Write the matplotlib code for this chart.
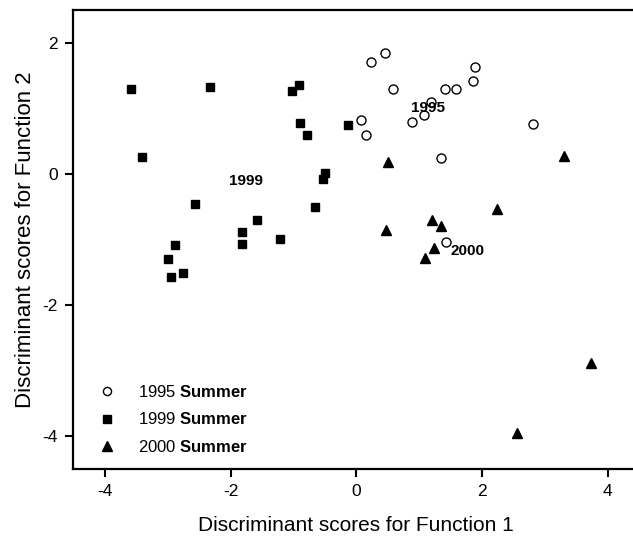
import matplotlib
matplotlib.use("Agg")
import matplotlib.pyplot as plt

plt.rcParams['font.family'] = ['Liberation Sans', 'DejaVu Sans']
plt.rcParams['mathtext.fontset'] = 'custom'
plt.rcParams['mathtext.rm'] = 'Liberation Sans'
plt.rcParams['mathtext.bf'] = 'Liberation Sans:bold'
plt.rcParams['axes.unicode_minus'] = False

# discriminant scores
x_1995 = [0.23, 0.45, 0.59, 1.41, 1.58, 1.85, 1.89, 0.08, 0.16, 0.88, 1.07, 1.18, 2.81, 1.35, 1.43]
y_1995 = [1.71, 1.85, 1.29, 1.29, 1.29, 1.42, 1.63, 0.82, 0.59, 0.79, 0.90, 1.09, 0.76, 0.24, -1.04]

x_1999 = [-3.59, -2.33, -1.03, -0.91, -0.90, -0.79, -0.13, -3.41, -0.50, -0.53,
          -2.56, -0.66, -1.58, -1.81, -1.82, -1.22, -2.88, -3.00, -2.75, -2.94]
y_1999 = [1.29, 1.33, 1.27, 1.35, 0.78, 0.59, 0.75, 0.26, 0.02, -0.07,
          -0.46, -0.50, -0.71, -0.89, -1.07, -1.00, -1.09, -1.29, -1.51, -1.57]

x_2000 = [0.51, 3.30, 2.23, 1.21, 1.34, 0.48, 1.24, 1.10, 3.73, 2.55]
y_2000 = [0.18, 0.27, -0.54, -0.70, -0.79, -0.85, -1.13, -1.28, -2.88, -3.95]

group_names = ["1995", "1999", "2000"]
group_pos = [(1.14, 1.00), (-1.76, -0.11), (1.77, -1.17)]

fig = plt.figure(figsize=(6.33, 5.38), dpi=100)
ax = fig.add_axes([0.1158, 0.1283, 566 / 633, 0.8531])

ax.plot(x_1995, y_1995, "o", ms=6.5, mfc="white", mec="black", mew=1.0, ls="none",
        label=r"1995 $\mathbf{Summer}$", zorder=3)
ax.plot(x_1999, y_1999, "s", ms=6, color="black", ls="none",
        label=r"1999 $\mathbf{Summer}$", zorder=3)
ax.plot(x_2000, y_2000, "^", ms=7.5, color="black", ls="none",
        label=r"2000 $\mathbf{Summer}$", zorder=3)

for name, (gx, gy) in zip(group_names, group_pos):
    ax.text(gx, gy, name, fontsize=11, fontweight="bold", ha="center", va="center", zorder=4)

ax.set_xlim(-4.5, 4.5)
ax.set_ylim(-4.5, 2.5)
ax.set_xticks([-4, -2, 0, 2, 4])
ax.set_yticks([-4, -2, 0, 2])
ax.tick_params(labelsize=12.5, length=6, width=1.5, direction="out", pad=5)
for s in ax.spines.values():
    s.set_linewidth(1.6)

ax.set_xlabel("Discriminant scores for Function 1", fontsize=15, labelpad=12)
ax.set_ylabel("Discriminant scores for Function 2", fontsize=16, labelpad=5)

leg = ax.legend(loc="upper left", bbox_to_anchor=(98.7 / 633, 1 - 384 / 538),
                bbox_transform=fig.transFigure, frameon=False, fontsize=12,
                handlelength=1.0, handletextpad=1.36, labelspacing=0.68,
                borderpad=0, borderaxespad=0, markerscale=0.9)

fig.savefig("out.png", dpi=100)
